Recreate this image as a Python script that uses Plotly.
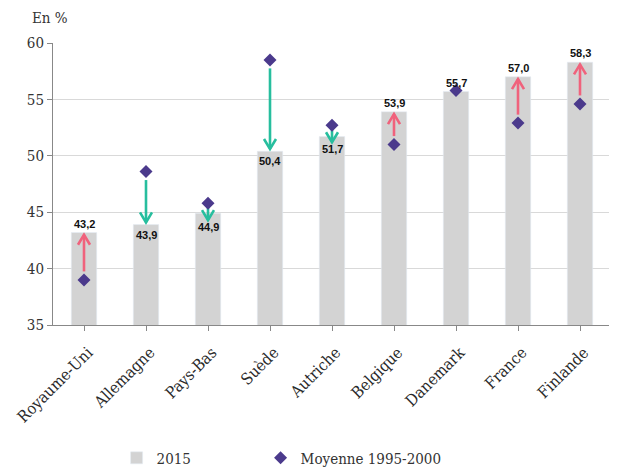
import plotly.graph_objects as go

countries = ["Royaume-Uni", "Allemagne", "Pays-Bas", "Suède", "Autriche",
             "Belgique", "Danemark", "France", "Finlande"]
v2015 = [43.2, 43.9, 44.9, 50.4, 51.7, 53.9, 55.7, 57.0, 58.3]
moy = [39.0, 48.6, 45.8, 58.5, 52.7, 51.0, 55.8, 52.9, 54.6]
labels = [f"{v:.1f}".replace(".", ",") for v in v2015]

BAR = "#D3D3D3"
DIAM = "#4B3A8C"
UP = "#F0627C"
DOWN = "#27BE9E"
SERIF = "DejaVu Serif Condensed, DejaVu Serif, serif"

# pixel -> data conversions (plot is ~558 px wide for 9 categories, 282 px tall for 25 units)
PX_X = 9 / 558.0
PX_Y = 25 / 282.0

fig = go.Figure()
fig.add_trace(go.Bar(x=list(range(9)), y=v2015, base=0, marker_color=BAR,
                     width=0.41, name="2015", legend="legend"))

annots = []
tips = {}
for color, sgn_want in ((UP, 1), (DOWN, -1)):
    xs, ys = [], []
    for i, (a, b) in enumerate(zip(moy, v2015)):
        d = b - a
        if abs(d) < 0.3:
            continue
        s = 1 if d > 0 else -1
        if s != sgn_want:
            continue
        if abs(d) > 2:
            y0 = a + s * 0.75
            y1 = b - s * 0.2
        else:
            y0 = a + s * 0.4
            y1 = y0 + s * 1.1
        tips[i] = y1
        xs += [i, i, None]
        ys += [y0, y1, None]
        hw = 6 * PX_X
        hh = 10 * PX_Y
        xs += [i - hw, i, i + hw, None]
        ys += [y1 - s * hh, y1, y1 - s * hh, None]
    fig.add_trace(go.Scatter(x=xs, y=ys, mode="lines",
                             line=dict(color=color, width=2.6),
                             showlegend=False, hoverinfo="skip"))

fig.add_trace(go.Scatter(x=list(range(9)), y=moy, mode="markers",
                         marker=dict(symbol="diamond", size=10, color=DIAM),
                         name="Moyenne 1995-2000", legend="legend2"))

# value labels
for i, (a, b) in enumerate(zip(moy, v2015)):
    if a - b > 0.3:
        yl = min(b - 10 * PX_Y, tips.get(i, b) - 7 * PX_Y)
        annots.append(dict(x=i, y=yl, text=labels[i], showarrow=False,
                           xanchor="center", yanchor="middle",
                           font=dict(family="Liberation Sans, Arial", size=11,
                                     color="#111", weight="bold")))
    else:
        annots.append(dict(x=i, y=b, yshift=9, text=labels[i], showarrow=False,
                           xanchor="center", yanchor="middle",
                           font=dict(family="Liberation Sans, Arial", size=11,
                                     color="#111", weight="bold")))

annots.append(dict(text="En %", xref="paper", yref="paper", x=-0.041, y=1.09,
                   xanchor="left", yanchor="middle", showarrow=False,
                   font=dict(family=SERIF, size=15, color="#333")))

fig.update_layout(
    width=609, height=459,
    margin=dict(l=45, r=6, t=35, b=142, autoexpand=False),
    plot_bgcolor="white", paper_bgcolor="white",
    font=dict(family=SERIF, size=14, color="#333"),
    xaxis=dict(tickmode="array", tickvals=list(range(9)), ticktext=countries,
               range=[-0.5, 8.5], tickangle=-45, automargin=False,
               showline=True, linecolor="#888", linewidth=1,
               ticks="outside", ticklen=5, tickcolor="#888",
               tickson="boundaries", showgrid=False,
               ticklabelshift=4, ticklabelstandoff=6,
               tickfont=dict(family=SERIF, size=16, color="#2a2a2a")),
    yaxis=dict(range=[35, 60], tickvals=[35, 40, 45, 50, 55, 60], automargin=False,
               showline=True, linecolor="#888", linewidth=1,
               ticks="outside", ticklen=5, tickcolor="#888",
               gridcolor="#D9D9D9", gridwidth=1, zeroline=False,
               tickfont=dict(family=SERIF, size=15, color="#333")),
    legend=dict(orientation="h", x=0.114, xanchor="left", y=-0.472, yanchor="middle",
                font=dict(family=SERIF, size=15, color="#333")),
    legend2=dict(orientation="h", x=0.372, xanchor="left", y=-0.472, yanchor="middle",
                 font=dict(family=SERIF, size=15, color="#333")),
    annotations=annots,
)

fig.write_html("out.html")
